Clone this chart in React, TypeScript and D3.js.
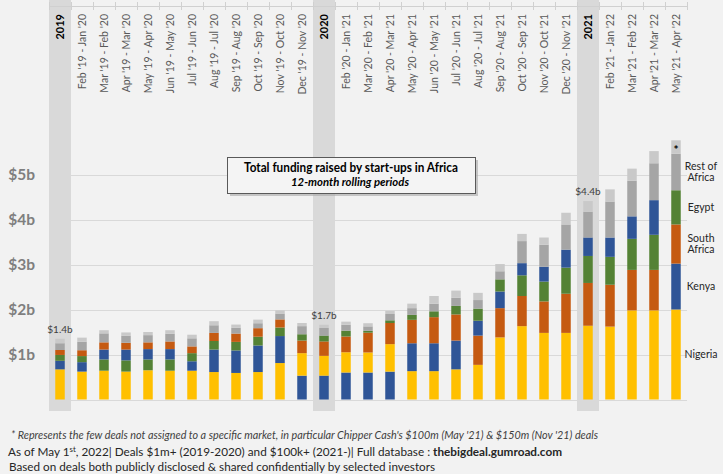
import React from "react";
import * as d3 from "d3";

const categories = [
  "2019", "Feb '19 - Jan '20", "Mar '19 - Feb '20", "Apr '19 - Mar '20", "May '19 - Apr '20",
  "Jun '19 - May '20", "Jul '19 - Jun '20", "Aug '19 - Jul '20", "Sep '19 - Aug '20",
  "Oct '19 - Sep '20", "Nov '19 - Oct '20", "Dec '19 - Nov '20", "2020",
  "Feb '20 - Jan '21", "Mar '20 - Feb '21", "Apr '20 - Mar '21", "May '20 - Apr '21",
  "Jun '20 - May '21", "Jul '20 - Jun '21", "Aug '20 - Jul '21", "Sep '20 - Aug '21",
  "Oct '20 - Sep '21", "Nov '20 - Oct '21", "Dec '20 - Nov '21", "2021",
  "Feb '21 - Jan '22", "Mar '21 - Feb '22", "Apr '21 - Mar '22", "May '21 - Apr '22",
];
const yearCategories = ["2019", "2020", "2021"];
const yearTotals = ["$1.4b", "$1.7b", "$4.4b"];

// values in $b
const nigeria = [0.67,0.62,0.64,0.62,0.65,0.64,0.64,0.61,0.59,0.61,0.81,0.50,0.44,0.45,0.445,0.61,0.63,0.63,0.67,0.77,1.38,1.63,1.48,1.48,1.64,1.62,1.98,1.98,2.00];
const kenya = [0.19,0.21,0.22,0.24,0.23,0.23,0.21,0.50,0.50,0.59,0.60,0.53,0.53,0.60,0.60,0.62,0.62,0.62,0.64,0.33,0.37,0.27,0.33,0.40,0.41,0.43,0.50,0.77,1.02];
const southAfrica = [0.11,0.13,0.16,0.15,0.15,0.17,0.15,0.18,0.185,0.19,0.18,0.28,0.32,0.35,0.44,0.47,0.52,0.58,0.58,0.65,0.65,0.67,0.70,0.87,0.95,0.93,0.90,0.90,0.87];
const egypt = [0.13,0.135,0.25,0.25,0.24,0.25,0.18,0.19,0.19,0.195,0.19,0.14,0.13,0.13,0.04,0.06,0.11,0.13,0.19,0.27,0.27,0.46,0.44,0.58,0.60,0.62,0.69,0.78,0.76];
const restOfAfrica = [0.15,0.19,0.20,0.16,0.16,0.17,0.18,0.17,0.13,0.11,0.13,0.18,0.17,0.13,0.10,0.14,0.15,0.17,0.18,0.19,0.18,0.49,0.49,0.56,0.57,0.80,0.79,0.82,0.81];
const unassigned = [0.10,0.09,0.07,0.07,0.07,0.08,0.08,0.09,0.07,0.08,0.07,0.07,0.07,0.07,0.07,0.07,0.10,0.17,0.16,0.16,0.16,0.16,0.16,0.26,0.24,0.27,0.27,0.27,0.30];

const yTicks = [1, 2, 3, 4, 5];
const yTickLabels = ["$1b", "$2b", "$3b", "$4b", "$5b"];

const countrySeries = [
  { key: "Nigeria", label: ["Nigeria"], values: nigeria, color: "#FFC000" },
  { key: "Kenya", label: ["Kenya"], values: kenya, color: "#2F5597" },
  { key: "South Africa", label: ["South", "Africa"], values: southAfrica, color: "#C55A11" },
  { key: "Egypt", label: ["Egypt"], values: egypt, color: "#548235" },
];
const restSeries = { key: "Rest of Africa", label: ["Rest of", "Africa"], values: restOfAfrica, color: "#A5A5A5" };
const unassignedSeries = { key: "Unassigned", label: ["*"], values: unassigned, color: "#C9C9C9" };

const FONT = "Lato, 'Open Sans', sans-serif";

export default function App() {
  const W = 723, H = 474;
  const x = d3.scalePoint<string>().domain(categories).range([49, 687]).padding(0.5);
  const step = x.step();
  const y = d3.scaleLinear().domain([0, 6]).range([399.5, 399.5 - 270]);
  const barW = 9.5;

  // per-bar stacking: countries sorted by value desc, then rest, then unassigned
  const stacks = categories.map((c, i) => {
    const sorted = countrySeries
      .map((s, k) => ({ s, k, v: s.values[i] }))
      .sort((a, b) => b.v - a.v || a.k - b.k)
      .map((d) => d.s);
    const order = [...sorted, restSeries, unassignedSeries];
    let acc = 0;
    return order.map((s) => {
      const y0 = acc;
      acc += s.values[i];
      return { key: s.key, color: s.color, y0, y1: acc };
    });
  });

  const last = stacks[stacks.length - 1];
  const legendItems = [...countrySeries, restSeries].map((s) => {
    const seg = last.find((d) => d.key === s.key)!;
    return { label: s.label, y: y((seg.y0 + seg.y1) / 2) };
  });
  const starSeg = last.find((d) => d.key === "Unassigned")!;

  const boundaries = d3.range(categories.length + 1).map((k) => 49 + k * step);

  return (
    <svg width={W} height={H} style={{ position: "fixed", left: 0, top: 0, fontFamily: FONT }}>
      <rect x={0} y={0} width={W} height={H} fill="#f2f2f2" />
      {/* year bands */}
      {yearCategories.map((c) => (
        <rect key={c} x={x(c)! - step / 2} y={0} width={step} height={411} fill="#d9d9d9" />
      ))}
      {/* gridlines */}
      {[0, ...yTicks].map((t) => (
        <line key={t} x1={49} x2={687} y1={Math.round(y(t)) + 0.5} y2={Math.round(y(t)) + 0.5} stroke="#d9d9d9" strokeWidth={1} />
      ))}
      {/* top axis */}
      <line x1={49} x2={687} y1={6.5} y2={6.5} stroke="#d0d0d0" />
      {boundaries.map((b, k) => (
        <line key={k} x1={Math.round(b) + 0.5} x2={Math.round(b) + 0.5} y1={2} y2={10} stroke="#d0d0d0" />
      ))}
      {/* y labels */}
      {yTicks.map((t, k) => (
        <text key={t} x={35} y={y(t)} dy="0.35em" textAnchor="end" fontSize={15.5} fontWeight="bold" fill="#7f7f7f">
          {yTickLabels[k]}
        </text>
      ))}
      {/* category labels */}
      {categories.map((c) => {
        const isYear = yearCategories.includes(c);
        return (
          <text
            key={c}
            transform={`translate(${x(c)! + 3.5},14) rotate(-90)`}
            textAnchor="end"
            fontSize={isYear ? 11 : 10.5}
            fontWeight={isYear ? "bold" : "normal"}
            fill={isYear ? "#000" : "#595959"}
          >
            {c}
          </text>
        );
      })}
      {/* bars */}
      {stacks.map((st, i) => (
        <g key={i}>
          {st.map((seg) => (
            <rect
              key={seg.key}
              x={x(categories[i])! - barW / 2}
              y={y(seg.y1)}
              width={barW}
              height={y(seg.y0) - y(seg.y1)}
              fill={seg.color}
            />
          ))}
        </g>
      ))}
      {/* year total labels */}
      {yearCategories.map((c, k) => {
        const i = categories.indexOf(c);
        const top = stacks[i][stacks[i].length - 1].y1;
        return (
          <text key={c} x={x(c)!} y={y(top) - 6} textAnchor="middle" fontSize={10} fill="#404040">
            {yearTotals[k]}
          </text>
        );
      })}
      {/* star */}
      <text x={x(categories[categories.length - 1])!} y={y((starSeg.y0 + starSeg.y1) / 2)} dy="0.55em" textAnchor="middle" fontSize={12} fontWeight="bold" fill="#000">
        *
      </text>
      {/* legend labels */}
      {legendItems.map((it, k) => (
        <text key={k} x={701} y={it.y} textAnchor="middle" fontSize={10.5} fill="#262626">
          {it.label.map((l, j) => (
            <tspan key={j} x={701} dy={j === 0 ? `${0.35 - (it.label.length - 1) * 0.55}em` : "1.1em"}>
              {l}
            </tspan>
          ))}
        </text>
      ))}
      {/* title box */}
      <rect x={230} y={160} width={248} height={36} fill="#a6a6a6" opacity={0.6} />
      <rect x={227.5} y={157.5} width={248} height={36} fill="#f4f4f4" stroke="#595959" strokeWidth={1} />
      <text x={351} y={172} textAnchor="middle" fontSize={13} fontWeight="bold" fill="#000" textLength={214} lengthAdjust="spacingAndGlyphs">
        Total funding raised by start-ups in Africa
      </text>
      <text x={350} y={186} textAnchor="middle" fontSize={11.5} fontWeight="bold" fontStyle="italic" fill="#000" textLength={118} lengthAdjust="spacingAndGlyphs">
        12-month rolling periods
      </text>
      {/* footer */}
      <text x={11} y={439} fontSize={10.5} fontStyle="italic" fill="#404040" textLength={587} lengthAdjust="spacingAndGlyphs">
        * Represents the few deals not assigned to a specific market, in particular Chipper Cash's $100m (May '21) &amp; $150m (Nov '21) deals
      </text>
      <text x={8} y={455.5} fontSize={12} fill="#262626" textLength={554} lengthAdjust="spacingAndGlyphs">
        As of May 1<tspan dy={-4} fontSize={8}>st</tspan><tspan dy={4}>, 2022| Deals $1m+ (2019-2020) and $100k+ (2021-)| Full database : </tspan>
        <tspan fontWeight="bold">thebigdeal.gumroad.com</tspan>
      </text>
      <text x={9} y={471} fontSize={12} fill="#262626" textLength={426} lengthAdjust="spacingAndGlyphs">
        Based on deals both publicly disclosed &amp; shared confidentially by selected investors
      </text>
    </svg>
  );
}
